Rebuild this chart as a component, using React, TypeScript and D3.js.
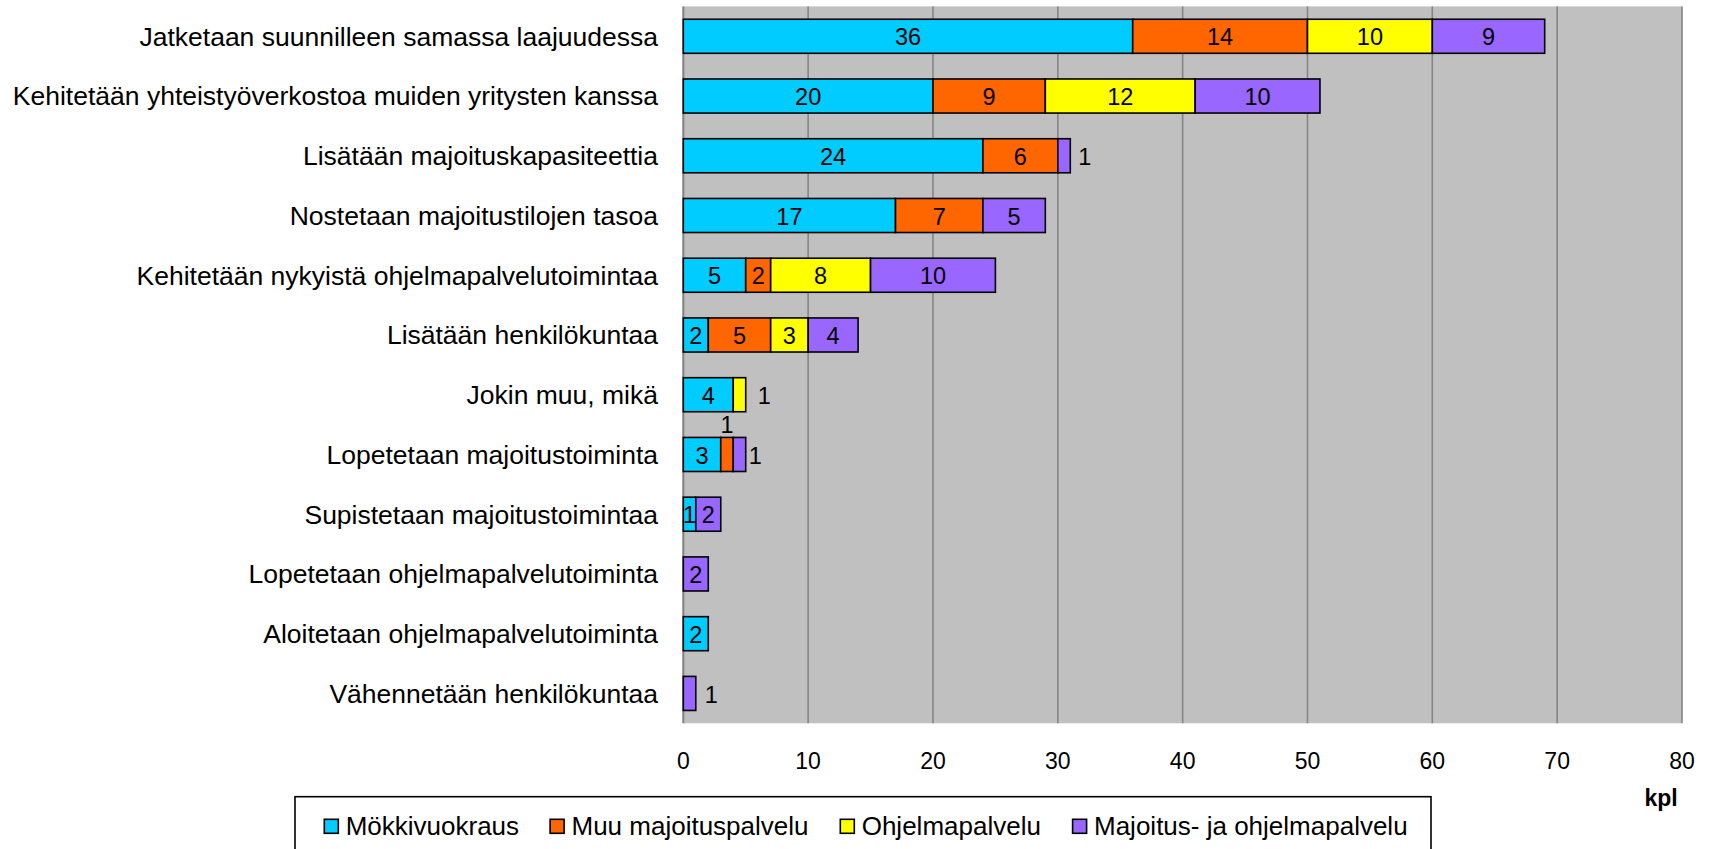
import React from "react";
import * as d3 from "d3";

const categories = [
  "Jatketaan suunnilleen samassa laajuudessa",
  "Kehitetään yhteistyöverkostoa muiden yritysten kanssa",
  "Lisätään majoituskapasiteettia",
  "Nostetaan majoitustilojen tasoa",
  "Kehitetään nykyistä ohjelmapalvelutoimintaa",
  "Lisätään henkilökuntaa",
  "Jokin muu, mikä",
  "Lopetetaan majoitustoiminta",
  "Supistetaan majoitustoimintaa",
  "Lopetetaan ohjelmapalvelutoiminta",
  "Aloitetaan ohjelmapalvelutoiminta",
  "Vähennetään henkilökuntaa",
];

const seriesNames = [
  "Mökkivuokraus",
  "Muu majoituspalvelu",
  "Ohjelmapalvelu",
  "Majoitus- ja ohjelmapalvelu",
];

const mokkivuokraus = [36, 20, 24, 17, 5, 2, 4, 3, 1, 0, 2, 0];
const muuMajoitus = [14, 9, 6, 7, 2, 5, 0, 1, 0, 0, 0, 0];
const ohjelmapalvelu = [10, 12, 0, 0, 8, 3, 1, 0, 0, 0, 0, 0];
const majoitusJaOhjelma = [9, 10, 1, 5, 10, 4, 0, 1, 2, 2, 0, 1];

const xTicks = [0, 10, 20, 30, 40, 50, 60, 70, 80];
const axisTitle = "kpl";

const colors = ["#00CCFF", "#FF6600", "#FFFF00", "#9966FF"];

// label placement exceptions (row index, series index) -> mode
const labelModes: { [k: string]: { mode: string; dx?: number } } = {
  "2-3": { mode: "right", dx: 8 },
  "6-2": { mode: "right", dx: 12 },
  "7-1": { mode: "above" },
  "7-3": { mode: "right", dx: 3 },
  "11-3": { mode: "right", dx: 9 },
};

// legend text start positions (layout)
const legendTextX = [345.7, 571.5, 861.7, 1094];

const FONT = "Arial, 'Liberation Sans', sans-serif";

export default function App() {
  const W = 1713;
  const H = 849;
  const left = 683.3;
  const right = 1682;
  const top = 6.4;
  const bottom = 723.3;

  const x = d3.scaleLinear().domain([0, 80]).range([left, right]);
  const y = d3
    .scaleBand<string>()
    .domain(categories)
    .range([top, bottom])
    .paddingInner(0.43)
    .paddingOuter(0.215);

  const seriesData = [mokkivuokraus, muuMajoitus, ohjelmapalvelu, majoitusJaOhjelma];
  const table = categories.map((c, i) => {
    const row: any = { cat: c };
    seriesNames.forEach((s, j) => (row[s] = seriesData[j][i]));
    return row;
  });
  const stacked = d3.stack<any>().keys(seriesNames)(table);

  const bh = y.bandwidth();

  return (
    <svg
      width={W}
      height={H}
      style={{ position: "absolute", left: 0, top: 0, background: "#fff" }}
      fontFamily={FONT}
    >
      <rect x={left} y={top} width={right - left} height={bottom - top} fill="#C0C0C0" />
      {xTicks.slice(1).map((t) => (
        <line key={t} x1={x(t)} x2={x(t)} y1={top} y2={bottom} stroke="#868686" strokeWidth={1.6} />
      ))}
      <line x1={left} x2={left} y1={top} y2={bottom} stroke="#808080" strokeWidth={2} />

      {categories.map((c) => (
        <text key={c} x={658} y={(y(c) as number) + bh / 2 + 9.4} textAnchor="end" fontSize={26.5} fill="#000">
          {c}
        </text>
      ))}

      {stacked.map((layer, j) =>
        layer.map((d, i) => {
          const v = d[1] - d[0];
          if (v <= 0) return null;
          const yy = y(categories[i]) as number;
          return (
            <rect
              key={`${j}-${i}`}
              x={x(d[0])}
              y={yy}
              width={x(d[1]) - x(d[0])}
              height={bh}
              fill={colors[j]}
              stroke="#000"
              strokeWidth={1.6}
            />
          );
        })
      )}

      {stacked.map((layer, j) =>
        layer.map((d, i) => {
          const v = d[1] - d[0];
          if (v <= 0) return null;
          const yy = y(categories[i]) as number;
          const cy = yy + bh / 2;
          const m = labelModes[`${i}-${j}`];
          let tx = (x(d[0]) + x(d[1])) / 2;
          let ty = cy + 9.2;
          let anchor = "middle";
          if (m && m.mode === "right") {
            tx = x(d[1]) + (m.dx || 6);
            anchor = "start";
          } else if (m && m.mode === "above") {
            ty = yy - 4;
          }
          return (
            <text key={`l${j}-${i}`} x={tx} y={ty} textAnchor={anchor} fontSize={23.5} fill="#000">
              {v}
            </text>
          );
        })
      )}

      {xTicks.map((t) => (
        <text key={`t${t}`} x={x(t)} y={769.3} textAnchor="middle" fontSize={23} fill="#000">
          {t}
        </text>
      ))}
      <text x={1661} y={806} textAnchor="middle" fontSize={23} fontWeight="bold" fill="#000">
        {axisTitle}
      </text>

      <rect x={295} y={796.7} width={1431 - 295} height={80} fill="#fff" stroke="#000" strokeWidth={1.6} />
      {seriesNames.map((s, i) => (
        <g key={s}>
          <rect x={legendTextX[i] - 21.4} y={819.3} width={14} height={14} fill={colors[i]} stroke="#000" strokeWidth={1.6} />
          <text x={legendTextX[i]} y={835} fontSize={26} fill="#000">
            {s}
          </text>
        </g>
      ))}
    </svg>
  );
}
